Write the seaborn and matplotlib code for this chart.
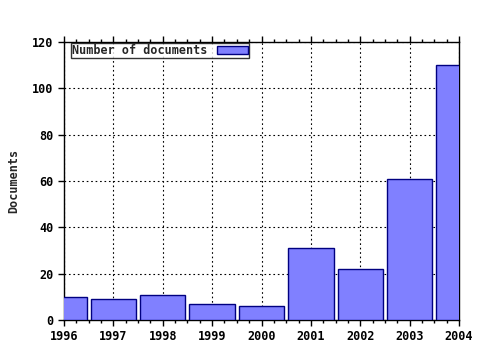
import matplotlib
matplotlib.use("Agg")
import matplotlib.pyplot as plt
import seaborn as sns
import pandas as pd
from matplotlib.ticker import MultipleLocator

years = [1996, 1997, 1998, 1999, 2000, 2001, 2002, 2003, 2004]
documents = [10, 9, 11, 7, 6, 31, 22, 61, 110]
series_label = "Number of documents"
y_label = "Documents"

sns.set_style("white")
plt.rcParams['font.family'] = ['DejaVu Sans Mono']
plt.rcParams['font.weight'] = 'bold'
plt.rcParams['font.size'] = 8.5

df = pd.DataFrame({"year": years, "docs": documents})

fig = plt.figure(figsize=(4.8, 3.5), dpi=100)
ax = fig.add_axes([64/480, 1-320/350, (459-64)/480, (320-42)/350])

sns.barplot(data=df, x="year", y="docs", native_scale=True, width=0.92,
            color="#8080ff", saturation=1, edgecolor="#000080", linewidth=1,
            label=series_label, ax=ax, zorder=3)

ax.set_xlim(1996, 2004)
ax.set_ylim(0, 120)
ax.xaxis.set_major_locator(MultipleLocator(1))
ax.xaxis.set_minor_locator(MultipleLocator(0.25))
ax.yaxis.set_major_locator(MultipleLocator(20))
ax.set_xticks(years)
ax.set_xticklabels([str(y) for y in years])

ax.grid(True, which='major', color='black', linestyle=(0, (1.5, 2.5)), linewidth=0.8, zorder=0)
ax.set_axisbelow(True)
for s in ax.spines.values():
    s.set_color('black')
    s.set_linewidth(1)
    s.set_visible(True)

ax.tick_params(axis='x', which='major', direction='out', length=4, width=1, top=True, bottom=True, colors='black', labelsize=8.5, pad=3)
ax.tick_params(axis='x', which='minor', direction='out', length=2, width=1, top=True, bottom=True, colors='black')
ax.tick_params(axis='y', which='major', direction='out', length=4, width=1, left=True, colors='black', labelsize=8.5)
ax.tick_params(axis='y', which='minor', left=False)

ax.set_xlabel("")
ax.set_ylabel(y_label, fontsize=8.5, fontweight='bold')
ax.yaxis.set_label_coords(-0.112, 0.5)

leg = ax.legend(loc='upper left', markerfirst=False, frameon=True, fancybox=False,
                borderpad=0.1, handlelength=2.6, handleheight=0.6,
                bbox_to_anchor=(7/395, 1 - 1/278), borderaxespad=0,
                prop={'family': 'DejaVu Sans Mono', 'weight': 'bold', 'size': 8.5})
leg.get_frame().set_edgecolor('black')
leg.get_frame().set_linewidth(1)

for lbl in ax.get_xticklabels() + ax.get_yticklabels():
    lbl.set_fontweight('bold')

fig.savefig("out.png", dpi=100)
